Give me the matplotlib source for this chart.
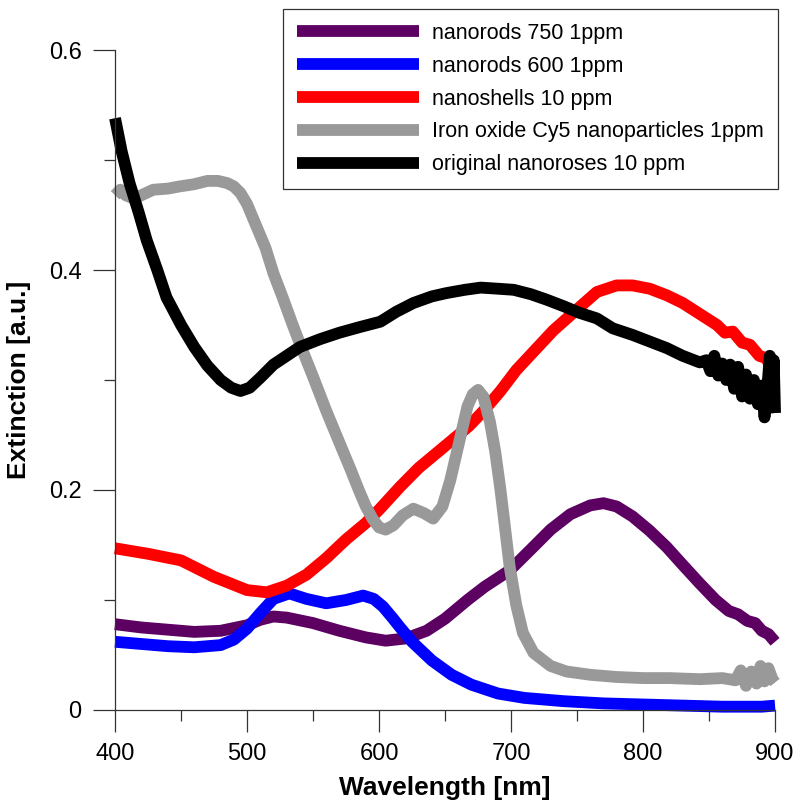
import matplotlib.pyplot as plt
from matplotlib.ticker import MultipleLocator

plt.rcParams['font.family'] = ['Liberation Sans', 'DejaVu Sans']

# nanorods 750 1ppm
wl_rods750 = [400, 420, 440, 460, 480, 500, 510, 520, 530, 550, 570, 590, 605, 620, 636,
              650, 667, 680, 699, 715, 730, 745, 760, 770, 780, 792, 805, 818, 830, 843,
              855, 865, 872, 879, 885, 890, 895, 900]
ext_rods750 = [0.078, 0.075, 0.073, 0.071, 0.072, 0.077, 0.082, 0.085, 0.084, 0.079, 0.072,
               0.066, 0.063, 0.065, 0.072, 0.083, 0.100, 0.112, 0.127, 0.146, 0.164, 0.178,
               0.186, 0.188, 0.185, 0.176, 0.163, 0.148, 0.132, 0.115, 0.100, 0.090, 0.087,
               0.081, 0.079, 0.072, 0.069, 0.062]

# nanorods 600 1ppm
wl_rods600 = [400, 420, 440, 460, 480, 490, 500, 510, 520, 532, 545, 560, 575, 588, 596,
              603, 610, 616, 625, 640, 655, 670, 690, 710, 740, 770, 800, 830, 860, 890, 900]
ext_rods600 = [0.062, 0.060, 0.058, 0.057, 0.059, 0.064, 0.074, 0.088, 0.101, 0.106, 0.101,
               0.097, 0.100, 0.104, 0.101, 0.094, 0.084, 0.075, 0.062, 0.045, 0.032, 0.023,
               0.015, 0.011, 0.008, 0.006, 0.005, 0.004, 0.003, 0.003, 0.004]

# nanoshells 10 ppm
wl_shells = [400, 425, 450, 475, 500, 515, 530, 545, 560, 575, 590, 600, 616, 630, 645, 655,
             668, 680, 692, 704, 718, 732, 747, 765, 780, 792, 805, 818, 830, 843, 856, 862,
             868, 875, 881, 888, 893, 900]
ext_shells = [0.147, 0.142, 0.136, 0.121, 0.109, 0.107, 0.113, 0.123, 0.138, 0.155, 0.170,
              0.182, 0.203, 0.220, 0.235, 0.245, 0.258, 0.273, 0.290, 0.309, 0.327, 0.345,
              0.361, 0.380, 0.386, 0.386, 0.383, 0.377, 0.370, 0.360, 0.350, 0.343, 0.344,
              0.334, 0.332, 0.322, 0.320, 0.306]

# Iron oxide Cy5 nanoparticles 1ppm
wl_iron = [400, 404, 408, 414, 420, 429, 440, 449, 460, 470, 478, 485, 490, 495, 500, 507,
           514, 520, 527, 534, 541, 550, 560, 570, 578, 585, 590, 595, 600, 605, 611, 618,
           626, 634, 641, 648, 654, 660, 667, 671, 675, 679, 684, 688, 692, 696, 699, 704,
           709, 717, 730, 742, 760, 780, 800, 820, 843, 860, 870, 874, 878, 882, 886, 889,
           892, 895, 898, 900]
ext_iron = [0.468, 0.473, 0.468, 0.465, 0.468, 0.473, 0.474, 0.476, 0.478, 0.481, 0.481,
            0.479, 0.476, 0.470, 0.460, 0.440, 0.420, 0.397, 0.375, 0.352, 0.330, 0.303,
            0.272, 0.243, 0.220, 0.199, 0.185, 0.174, 0.166, 0.164, 0.168, 0.177,
            0.183, 0.179, 0.174, 0.185, 0.209, 0.240, 0.276, 0.287, 0.291, 0.285, 0.262,
            0.235, 0.200, 0.160, 0.130, 0.095, 0.070, 0.052, 0.040, 0.035, 0.032, 0.030,
            0.029, 0.029, 0.028, 0.029, 0.027, 0.036, 0.022, 0.035, 0.024, 0.040, 0.026,
            0.038, 0.028, 0.025]

# original nanoroses 10 ppm
wl_roses = [400, 405, 411, 418, 424, 432, 439, 450, 460, 470, 480, 488, 495, 502, 510, 520,
            530, 540, 555, 570, 585, 601, 613, 626, 640, 651, 665, 677, 690, 702, 715, 727,
            740, 752, 765, 777, 792, 805, 818, 830, 843, 848, 851, 854, 857, 860, 863, 866,
            869, 872, 875, 878, 881, 884, 887, 890, 892, 894, 896, 898, 899, 900]
ext_roses = [0.538, 0.508, 0.479, 0.452, 0.427, 0.400, 0.375, 0.350, 0.330, 0.313, 0.300,
             0.293, 0.290, 0.293, 0.302, 0.314, 0.322, 0.330, 0.337, 0.343, 0.348, 0.353,
             0.362, 0.370, 0.376, 0.379, 0.382, 0.384, 0.383, 0.382, 0.378, 0.373, 0.367,
             0.361, 0.356, 0.347, 0.341, 0.335, 0.329, 0.322, 0.316, 0.318, 0.308, 0.322,
             0.304, 0.315, 0.300, 0.314, 0.292, 0.312, 0.285, 0.305, 0.283, 0.300, 0.278,
             0.295, 0.266, 0.290, 0.322, 0.275, 0.318, 0.270]

series = [
    (wl_rods750, ext_rods750, '#5c0062', 'nanorods 750 1ppm'),
    (wl_rods600, ext_rods600, '#0000ff', 'nanorods 600 1ppm'),
    (wl_shells, ext_shells, '#ff0000', 'nanoshells 10 ppm'),
    (wl_iron, ext_iron, '#999999', 'Iron oxide Cy5 nanoparticles 1ppm'),
    (wl_roses, ext_roses, '#000000', 'original nanoroses 10 ppm'),
]

fig = plt.figure(figsize=(8.05, 8.08), dpi=100)
ax = fig.add_axes([0.1429, 0.1213, 0.8199, 0.8168])

for xs, ys, c, lab in series:
    ax.plot(xs, ys, color=c, lw=8.5, label=lab, clip_on=False,
            solid_joinstyle='round', solid_capstyle='butt')

ax.set_xlim(400, 900)
ax.set_ylim(0, 0.6)
ax.xaxis.set_major_locator(MultipleLocator(100))
ax.xaxis.set_minor_locator(MultipleLocator(50))
ax.yaxis.set_minor_locator(MultipleLocator(0.1))
ax.set_yticks([0, 0.2, 0.4, 0.6])
ax.set_yticklabels(['0', '0.2', '0.4', '0.6'])

for s in ['top', 'right']:
    ax.spines[s].set_visible(False)
for s in ['left', 'bottom']:
    ax.spines[s].set_linewidth(0.9)
    ax.spines[s].set_color('#333333')

ax.tick_params(which='major', length=16, width=0.9, color='#333333', labelsize=17, pad=8)
ax.tick_params(which='minor', length=8, width=0.9, color='#333333')

ax.set_xlabel('Wavelength [nm]', fontsize=19, fontweight='bold', labelpad=8)
ax.set_ylabel('Extinction [a.u.]', fontsize=19, fontweight='bold', labelpad=13)

leg = fig.legend(loc='upper right', bbox_to_anchor=(0.9665, 0.989), fontsize=15.5,
                 handlelength=5.7, handletextpad=0.6, labelspacing=0.55,
                 borderpad=0.65, borderaxespad=0, fancybox=False, framealpha=1,
                 edgecolor='#333333')
leg.get_frame().set_linewidth(0.9)

fig.savefig('out.png', dpi=100)
